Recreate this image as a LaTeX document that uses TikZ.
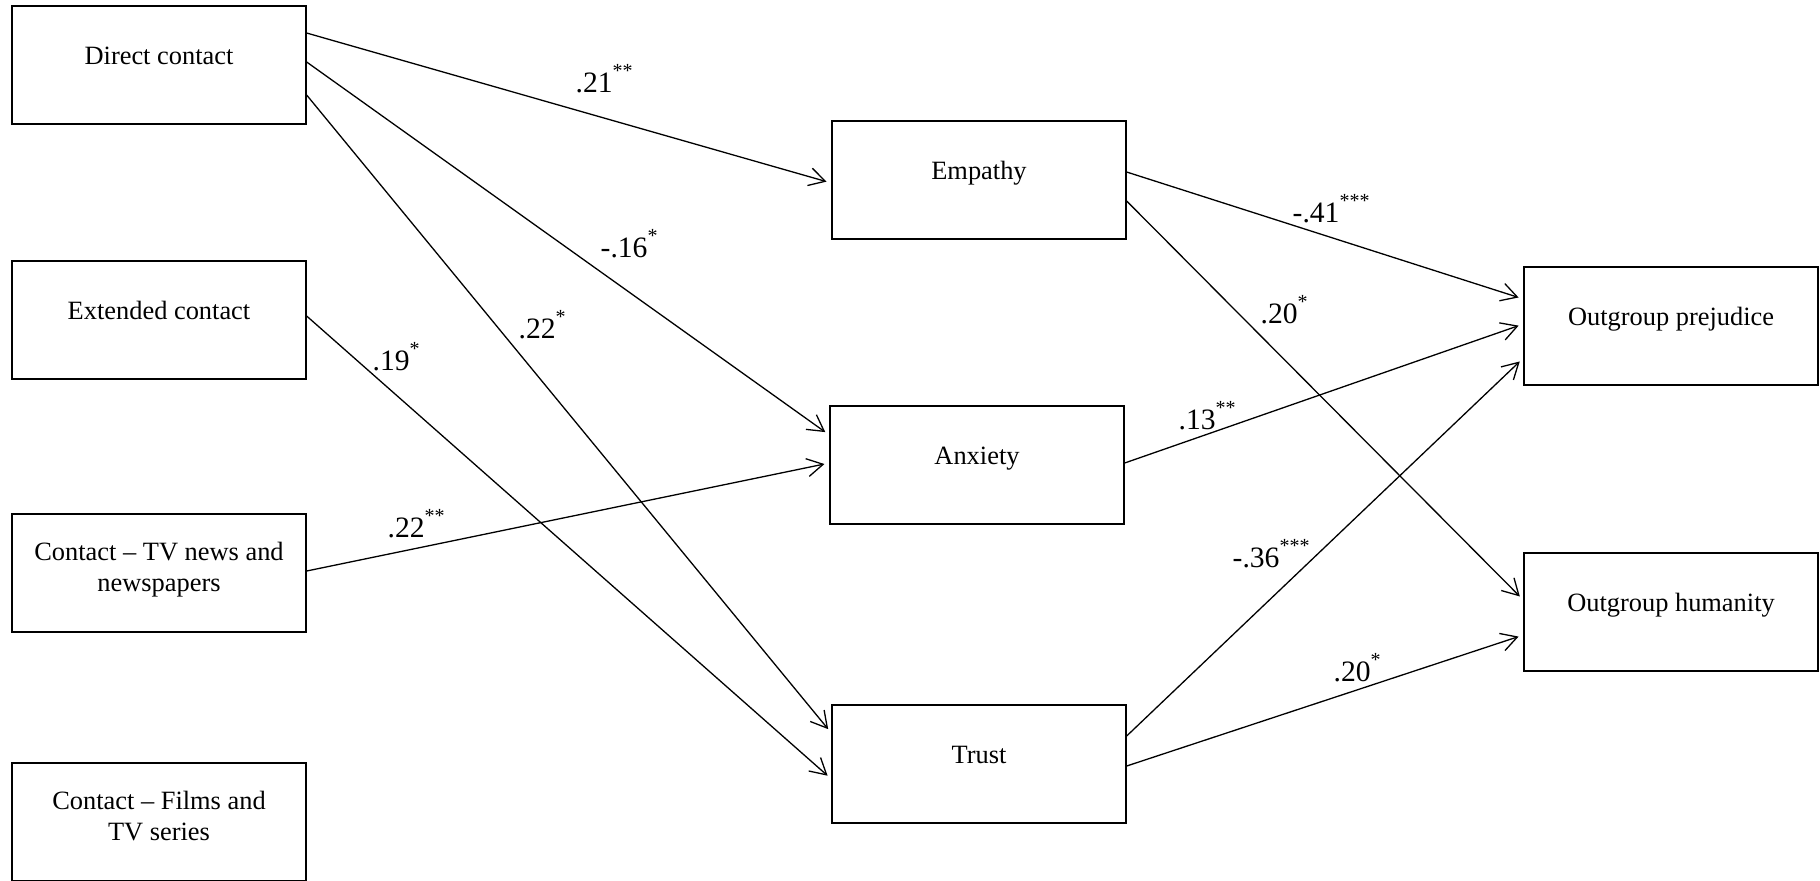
\documentclass[tikz,border=0pt]{standalone}
\usepackage{fontspec}
\setmainfont{Liberation Serif}
\usetikzlibrary{arrows.meta}

\newcommand{\sig}[1]{\raisebox{7.5pt}{\fontsize{10}{10}\selectfont #1}}

\begin{document}
\begin{tikzpicture}[x=0.5pt,y=-0.5pt,line width=0.65pt]
	\tikzstyle{box} = [draw,rectangle,minimum width=147pt,minimum height=59pt,inner sep=0pt,text height=29pt,text depth=30pt,font=\fontsize{13.2}{15.5}\selectfont]
	\tikzstyle{box2} = [box,align=center,text height=38.5pt,text depth=20.5pt]
	\tikzstyle{coef} = [anchor=base west,inner sep=0pt,font=\fontsize{14.8}{16}\selectfont]
	\tikzstyle{link} = [-{Straight Barb[length=8pt,width=9pt]},shorten >=2.5pt]
	
	\clip (0,0) rectangle (1820,880);
	
	% contact
	\node[box](c-1) at (159,65) {Direct contact};
	\node[box](c-2) at (159,320) {Extended contact};
	\node[box2](c-3) at (159,573) {Contact -- TV news and\\newspapers};
	\node[box2](c-4) at (159,822) {Contact -- Films and\\TV series};
	
	% mediators
	\node[box](m-1) at (979,180) {Empathy};
	\node[box](m-2) at (977,465) {Anxiety};
	\node[box](m-3) at (979,764) {Trust};
	
	% outcomes
	\node[box](o-1) at (1671,326) {Outgroup prejudice};
	\node[box](o-2) at (1671,612) {Outgroup humanity};
	
	\path[link] ([yshift=16pt]c-1.east) edge ([yshift=-1.5pt]m-1.west)
	([yshift=1.5pt]c-1.east) edge ([yshift=15pt]m-2.west)
	([yshift=-15pt]c-1.east) edge ([yshift=15.5pt]m-3.west)
	([yshift=2pt]c-2.east) edge ([yshift=-7.5pt]m-3.west)
	([yshift=1pt]c-3.east) edge ([yshift=1pt]m-2.west);
	
	\path[link] ([yshift=4pt]m-1.east) edge ([yshift=13.5pt]o-1.west)
	([yshift=-10.5pt]m-1.east) edge ([yshift=6pt]o-2.west)
	([yshift=1pt]m-2.east) edge ([yshift=1pt]o-1.west)
	([yshift=14pt]m-3.east) edge ([yshift=-16pt]o-1.west)
	([yshift=-1pt]m-3.east) edge ([yshift=-11.5pt]o-2.west);
	
	\node[coef](w-1) at (575,92) {.21\sig{**}};
	\node[coef](w-2) at (600,257) {-.16\sig{*}};
	\node[coef](w-3) at (518,338) {.22\sig{*}};
	\node[coef](w-4) at (372,370) {.19\sig{*}};
	\node[coef](w-5) at (387,537) {.22\sig{**}};
	\node[coef](w-6) at (1292,222) {-.41\sig{***}};
	\node[coef](w-7) at (1260,323) {.20\sig{*}};
	\node[coef](w-8) at (1178,429) {.13\sig{**}};
	\node[coef](w-9) at (1232,567) {-.36\sig{***}};
	\node[coef](w-10) at (1333,681) {.20\sig{*}};
\end{tikzpicture}
\end{document}
